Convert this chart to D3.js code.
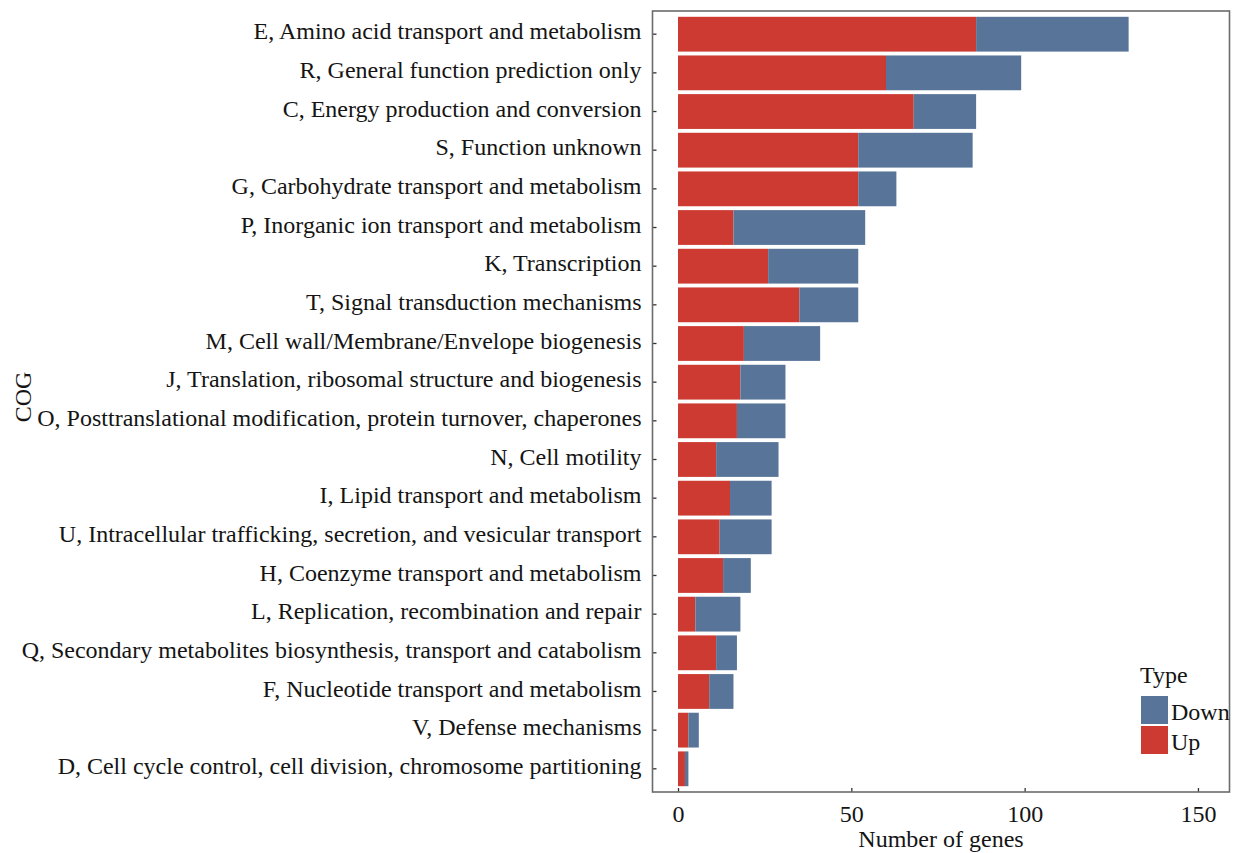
<!DOCTYPE html>
<html>
<head>
<meta charset="utf-8">
<script src="https://cdn.jsdelivr.net/npm/d3@7"></script>
<style>
  html, body { margin: 0; padding: 0; background: #ffffff; }
  svg text { font-family: "Liberation Serif", "Times New Roman", serif; fill: #141414; }
</style>
</head>
<body>
<svg id="chart" width="1237" height="853"></svg>
<script>
// COG categories, top to bottom
const categories = [
  "E, Amino acid transport and metabolism",
  "R, General function prediction only",
  "C, Energy production and conversion",
  "S, Function unknown",
  "G, Carbohydrate transport and metabolism",
  "P, Inorganic ion transport and metabolism",
  "K, Transcription",
  "T, Signal transduction mechanisms",
  "M, Cell wall/Membrane/Envelope biogenesis",
  "J, Translation, ribosomal structure and biogenesis",
  "O, Posttranslational modification, protein turnover, chaperones",
  "N, Cell motility",
  "I, Lipid transport and metabolism",
  "U, Intracellular trafficking, secretion, and vesicular transport",
  "H, Coenzyme transport and metabolism",
  "L, Replication, recombination and repair",
  "Q, Secondary metabolites biosynthesis, transport and catabolism",
  "F, Nucleotide transport and metabolism",
  "V, Defense mechanisms",
  "D, Cell cycle control, cell division, chromosome partitioning"
];
// gene counts per category
const upCounts   = [86, 60, 68, 52, 52, 16, 26, 35, 19, 18, 17, 11, 15, 12, 13, 5, 11, 9, 3, 2];
const downCounts = [44, 39, 18, 33, 11, 38, 26, 17, 22, 13, 14, 18, 12, 15, 8, 13, 6, 7, 3, 1];
const xTicks = [0, 50, 100, 150];
const types = ["Up", "Down"];
const legendOrder = ["Down", "Up"];
const typeColors = { Up: "#cc3a31", Down: "#587599" };

const rows = categories.map((c, i) => ({ cog: c, Up: upCounts[i], Down: downCounts[i] }));

const svg = d3.select("#chart");
const panel = { left: 652.5, right: 1229.5, top: 11, bottom: 792 };

const x = d3.scaleLinear().domain([-7.36, 159.1]).range([panel.left, panel.right]);
const y = d3.scaleBand().domain(categories)
  .range([panel.top, panel.bottom]).paddingInner(0.1).paddingOuter(0.15);

const stacked = d3.stack().keys(types)(rows);

// stacked bars
svg.append("g").selectAll("g")
  .data(stacked).join("g")
  .attr("fill", s => typeColors[s.key])
  .selectAll("rect")
  .data(s => s).join("rect")
  .attr("x", d => x(d[0]))
  .attr("width", d => x(d[1]) - x(d[0]))
  .attr("y", d => y(d.data.cog))
  .attr("height", y.bandwidth());

// category axis (ticks point into the panel)
const yAxis = svg.append("g")
  .attr("transform", `translate(${panel.left},0)`)
  .call(d3.axisLeft(y).tickSizeInner(-4).tickSizeOuter(0).tickPadding(11));
yAxis.select(".domain").remove();
yAxis.selectAll(".tick line").attr("stroke", "#333").attr("stroke-width", 1.3);
yAxis.selectAll(".tick text").attr("font-size", 24).attr("dy", "0.22em");

// count axis
const xAxis = svg.append("g")
  .attr("transform", `translate(0,${panel.bottom})`)
  .call(d3.axisBottom(x).tickValues(xTicks).tickSizeInner(-4).tickSizeOuter(0).tickPadding(13));
xAxis.select(".domain").remove();
xAxis.selectAll(".tick line").attr("stroke", "#333").attr("stroke-width", 1.3);
xAxis.selectAll(".tick text").attr("font-size", 24);

// panel border
svg.append("rect")
  .attr("x", panel.left).attr("y", panel.top)
  .attr("width", panel.right - panel.left).attr("height", panel.bottom - panel.top)
  .attr("fill", "none").attr("stroke", "#6b6b6b").attr("stroke-width", 1.6);

// axis titles
svg.append("text")
  .attr("x", (panel.left + panel.right) / 2).attr("y", 847)
  .attr("text-anchor", "middle").attr("font-size", 24)
  .text("Number of genes");
svg.append("text")
  .attr("transform", "translate(31,397) rotate(-90)")
  .attr("text-anchor", "middle").attr("font-size", 24)
  .text("COG");

// legend
const legend = svg.append("g").attr("transform", "translate(1140,0)");
legend.append("text").attr("x", 0).attr("y", 683).attr("font-size", 24).text("Type");
const keys = legend.selectAll("g.key").data(legendOrder).join("g").attr("class", "key")
  .attr("transform", (d, i) => `translate(1,${696 + i * 30})`);
keys.append("rect").attr("width", 27).attr("height", 28).attr("fill", d => typeColors[d]);
keys.append("text").attr("x", 30).attr("y", 24).attr("font-size", 24).text(d => d);
</script>
</body>
</html>
